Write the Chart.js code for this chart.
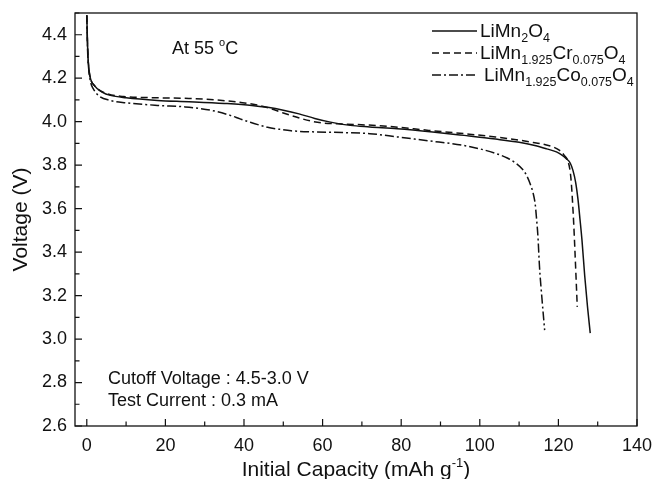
<!DOCTYPE html>
<html>
<head>
<meta charset="utf-8">
<script src="https://cdn.jsdelivr.net/npm/chart.js@4.4.0/dist/chart.umd.min.js"></script>
<style>
html,body{margin:0;padding:0;background:#fff;}
canvas{display:block;}
</style>
</head>
<body>
<canvas id="c" width="653" height="479"></canvas>
<script>
// ---- data ----
const capLiMn2O4 = [0, 0.2, 0.4, 0.8, 2, 4, 6, 10, 18, 26, 35, 42, 46, 50, 54, 58, 62, 67, 72, 79, 88, 96, 104, 110, 114, 117, 119.5, 121, 122, 123, 123.7, 124.4, 125, 125.5, 126, 126.7, 127.4, 128.1];
const voltLiMn2O4 = [4.49, 4.35, 4.27, 4.21, 4.165, 4.135, 4.121, 4.11, 4.098, 4.092, 4.084, 4.075, 4.066, 4.053, 4.036, 4.015, 3.998, 3.983, 3.976, 3.968, 3.953, 3.937, 3.92, 3.905, 3.89, 3.875, 3.861, 3.845, 3.83, 3.81, 3.776, 3.72, 3.64, 3.55, 3.455, 3.29, 3.15, 3.027];

const capCr = [0, 0.2, 0.4, 0.8, 2, 5, 9.3, 18, 26, 33, 39, 43, 46.6, 50, 53.5, 57, 60, 64, 68.7, 77, 87, 96, 104, 110, 114, 116.5, 118.5, 120.3, 121.5, 122.5, 123, 123.3, 123.6, 123.9, 124.2, 124.5, 124.8];
const voltCr = [4.49, 4.35, 4.27, 4.21, 4.165, 4.13, 4.116, 4.11, 4.107, 4.1, 4.089, 4.078, 4.061, 4.04, 4.02, 4.003, 3.994, 3.99, 3.987, 3.978, 3.96, 3.945, 3.93, 3.915, 3.903, 3.895, 3.885, 3.868, 3.845, 3.815, 3.77, 3.715, 3.63, 3.53, 3.409, 3.28, 3.148];

const capCo = [0, 0.2, 0.5, 1, 1.6, 3, 5.9, 10, 18, 25, 29, 33, 36.5, 39, 41.6, 44, 46, 49, 52, 58, 65, 72, 79, 87, 95.8, 100, 104.2, 107, 109.3, 110.8, 111.9, 112.9, 113.6, 114.1, 114.4, 114.8, 115.2, 115.8, 116.5];
const voltCo = [4.49, 4.33, 4.24, 4.18, 4.153, 4.12, 4.098, 4.087, 4.075, 4.068, 4.06, 4.047, 4.029, 4.013, 3.997, 3.984, 3.974, 3.965, 3.958, 3.953, 3.95, 3.945, 3.93, 3.912, 3.891, 3.875, 3.853, 3.833, 3.807, 3.782, 3.753, 3.71, 3.669, 3.62, 3.562, 3.47, 3.33, 3.19, 3.041];

const xTicks = [0, 20, 40, 60, 80, 100, 120, 140];
const yTicks = [2.6, 2.8, 3.0, 3.2, 3.4, 3.6, 3.8, 4.0, 4.2, 4.4];
const xMinorTicks = [10, 30, 50, 70, 90, 110, 130];
const yMinorTicks = [2.7, 2.9, 3.1, 3.3, 3.5, 3.7, 3.9, 4.1, 4.3, 4.5];

// legend labels as [text, kind] runs (0 normal, 1 subscript, 2 superscript)
const legendLabels = [
  [["LiMn", 0], ["2", 1], ["O", 0], ["4", 1]],
  [["LiMn", 0], ["1.925", 1], ["Cr", 0], ["0.075", 1], ["O", 0], ["4", 1]],
  [["LiMn", 0], ["1.925", 1], ["Co", 0], ["0.075", 1], ["O", 0], ["4", 1]]
];
const xTitle = [["Initial Capacity (mAh g", 0], ["-1", 2], [")", 0]];
const yTitle = "Voltage (V)";
const noteTemp = [["At 55 ", 0], ["o", 2], ["C", 0]];
const noteLines = ["Cutoff Voltage : 4.5-3.0 V", "Test Current : 0.3 mA"];

const FONT = "'Liberation Sans', Arial, Helvetica, sans-serif";
const INK = '#111';

function pts(xs, ys){ return xs.map((x,i)=>({x:x, y:ys[i]})); }

const dashStyles = [[], [7,4], [9,3,2,3]];

function drawRuns(ctx, runs, x, y, size, subSize){
  for (const [t, kind] of runs){
    if (kind === 0){
      ctx.font = size + 'px ' + FONT;
      ctx.fillText(t, x, y);
    } else if (kind === 1){
      ctx.font = subSize + 'px ' + FONT;
      ctx.fillText(t, x, y + size*0.28);
    } else {
      ctx.font = subSize + 'px ' + FONT;
      ctx.fillText(t, x, y - size*0.42);
    }
    x += ctx.measureText(t).width;
  }
  return x;
}
function runsWidth(ctx, runs, size, subSize){
  let w = 0;
  for (const [t, kind] of runs){
    ctx.font = (kind===0?size:subSize) + 'px ' + FONT;
    w += ctx.measureText(t).width;
  }
  return w;
}

const decorPlugin = {
  id: 'decor',
  afterDraw(chart){
    const ctx = chart.ctx;
    const a = chart.chartArea;
    const xs = chart.scales.x, ys = chart.scales.y;
    ctx.save();
    ctx.strokeStyle = INK;
    ctx.lineWidth = 1.3;
    ctx.setLineDash([]);
    ctx.strokeRect(a.left, a.top, a.right - a.left, a.bottom - a.top);
    ctx.lineWidth = 1.2;
    ctx.beginPath();
    for (const v of xTicks){ const p = xs.getPixelForValue(v); ctx.moveTo(p, a.bottom); ctx.lineTo(p, a.bottom - 7); }
    for (const v of xMinorTicks){ const p = xs.getPixelForValue(v); ctx.moveTo(p, a.bottom); ctx.lineTo(p, a.bottom - 4.5); }
    for (const v of yTicks){ const p = ys.getPixelForValue(v); ctx.moveTo(a.left, p); ctx.lineTo(a.left + 7, p); }
    for (const v of yMinorTicks){ const p = ys.getPixelForValue(v); ctx.moveTo(a.left, p); ctx.lineTo(a.left + 4.5, p); }
    ctx.stroke();

    ctx.fillStyle = INK;
    ctx.textBaseline = 'alphabetic';
    ctx.textAlign = 'left';
    const tw = runsWidth(ctx, xTitle, 21, 13);
    drawRuns(ctx, xTitle, (a.left + a.right)/2 - tw/2, 476, 21, 13);
    ctx.save();
    ctx.translate(27, (a.top + a.bottom)/2);
    ctx.rotate(-Math.PI/2);
    ctx.font = '21px ' + FONT;
    ctx.textAlign = 'center';
    ctx.fillText(yTitle, 0, 0);
    ctx.restore();

    const rows = [31, 53, 75];
    for (let i = 0; i < 3; i++){
      ctx.strokeStyle = INK;
      ctx.lineWidth = 1.5;
      ctx.setLineDash(dashStyles[i]);
      ctx.beginPath();
      ctx.moveTo(432, rows[i]);
      ctx.lineTo(477, rows[i]);
      ctx.stroke();
      ctx.setLineDash([]);
      drawRuns(ctx, legendLabels[i], i === 2 ? 484 : 480, rows[i] + 6, 19, 12.5);
    }
    drawRuns(ctx, noteTemp, 172, 54, 18, 11);
    ctx.font = '18px ' + FONT;
    ctx.fillText(noteLines[0], 108, 384);
    ctx.fillText(noteLines[1], 108, 406);
    ctx.restore();
  }
};

const common = { showLine: true, pointRadius: 0, borderColor: INK, borderWidth: 1.5, fill: false, cubicInterpolationMode: 'monotone' };

new Chart(document.getElementById('c'), {
  type: 'scatter',
  data: {
    datasets: [
      Object.assign({ label: 'LiMn2O4', data: pts(capLiMn2O4, voltLiMn2O4), borderDash: dashStyles[0] }, common),
      Object.assign({ label: 'LiMn1.925Cr0.075O4', data: pts(capCr, voltCr), borderDash: dashStyles[1] }, common),
      Object.assign({ label: 'LiMn1.925Co0.075O4', data: pts(capCo, voltCo), borderDash: dashStyles[2] }, common)
    ]
  },
  options: {
    responsive: false,
    animation: false,
    layout: { padding: { top: 13, right: 16, left: 0, bottom: 0 } },
    plugins: { legend: { display: false }, tooltip: { enabled: false } },
    scales: {
      x: {
        type: 'linear', min: -3, max: 140,
        grid: { display: false, drawTicks: false },
        border: { display: false },
        ticks: { padding: 9, color: INK, font: { family: FONT, size: 18 }, maxRotation: 0, autoSkip: false, callback: v => String(v) },
        afterBuildTicks: s => { s.ticks = xTicks.map(v => ({ value: v })); },
        afterFit: s => { s.height = 53; s.paddingRight = 0; s.paddingLeft = 0; }
      },
      y: {
        type: 'linear', min: 2.6, max: 4.5,
        grid: { display: false, drawTicks: false },
        border: { display: false },
        ticks: { padding: 8, color: INK, font: { family: FONT, size: 18 }, autoSkip: false, callback: v => Number(v).toFixed(1) },
        afterBuildTicks: s => { s.ticks = yTicks.map(v => ({ value: v })); },
        afterFit: s => { s.width = 75; s.paddingTop = 0; s.paddingBottom = 0; }
      }
    }
  },
  plugins: [decorPlugin]
});
</script>
</body>
</html>
